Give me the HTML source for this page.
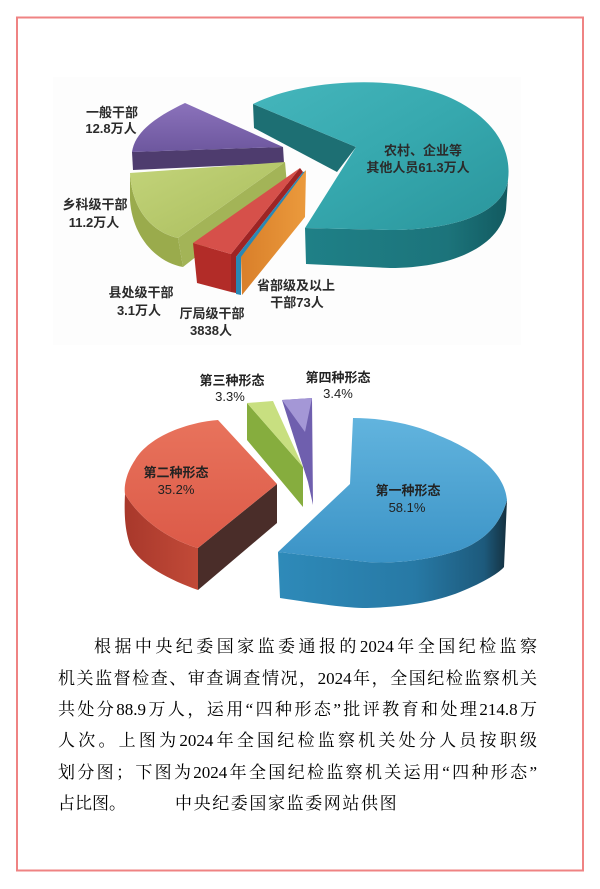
<!DOCTYPE html>
<html><head><meta charset="utf-8">
<style>
html,body{margin:0;padding:0;background:#fff;}
body{width:600px;height:889px;position:relative;overflow:hidden;}
svg{position:absolute;left:0;top:0;}
.p{position:absolute;left:58px;width:479px;font-family:"Liberation Serif","Noto Serif CJK SC",serif;font-size:17px;line-height:20px;color:#000;white-space:nowrap;}
.j{text-align:justify;text-align-last:justify;white-space:normal;}
</style></head><body>
<svg width="600" height="889" viewBox="0 0 600 889" xmlns="http://www.w3.org/2000/svg">
<defs>
<linearGradient id="tealTop" x1="0" y1="0" x2="1" y2="1">
<stop offset="0" stop-color="#45b6bc"/><stop offset="0.5" stop-color="#36a8ae"/><stop offset="1" stop-color="#2a959c"/>
</linearGradient>
<linearGradient id="tealSide" x1="0" y1="0" x2="1" y2="0">
<stop offset="0" stop-color="#1f8087"/><stop offset="0.7" stop-color="#1c747b"/><stop offset="1" stop-color="#125a60"/>
</linearGradient>
<linearGradient id="purTop" x1="0" y1="0" x2="0" y2="1">
<stop offset="0" stop-color="#8b72bb"/><stop offset="1" stop-color="#6d579e"/>
</linearGradient>
<linearGradient id="grnTop" x1="0" y1="0" x2="1" y2="1">
<stop offset="0" stop-color="#c3d47a"/><stop offset="1" stop-color="#a9bc5c"/>
</linearGradient>
<linearGradient id="orng" x1="0" y1="0" x2="1" y2="0">
<stop offset="0" stop-color="#d97f2a"/><stop offset="1" stop-color="#eb9a3c"/>
</linearGradient>
<linearGradient id="blueTop" x1="0" y1="0" x2="0" y2="1">
<stop offset="0" stop-color="#62b4de"/><stop offset="1" stop-color="#3b93c6"/>
</linearGradient>
<linearGradient id="blueSide" x1="0" y1="0" x2="1" y2="0">
<stop offset="0" stop-color="#2e8ab9"/><stop offset="0.6" stop-color="#2779a5"/><stop offset="0.9" stop-color="#1d5a7c"/><stop offset="1" stop-color="#14303f"/>
</linearGradient>
<linearGradient id="redTop" x1="0" y1="0" x2="0" y2="1">
<stop offset="0" stop-color="#e8735c"/><stop offset="1" stop-color="#dc5a48"/>
</linearGradient>
<linearGradient id="redSide" x1="0" y1="0" x2="1" y2="0">
<stop offset="0" stop-color="#a8382b"/><stop offset="1" stop-color="#c24a38"/>
</linearGradient>
</defs>

<rect x="53" y="77" width="468" height="268" fill="#fdfdfd"/>

<!-- TOP CHART -->
<path d="M253,104 L356,147 L337,172 L254,128 Z" fill="#1d6f73"/>
<path d="M508,180 C503,215 450,230 390,230 L305,228 L306,264 L390,268 C455,268 500,245 506,210 Z" fill="url(#tealSide)"/>
<path d="M356,147 L253,104 C300,80 400,72 455,100 C495,120 512,150 508,180 C503,215 450,230 390,230 L305,228 Z" fill="url(#tealTop)"/>
<path d="M132,152 L283,147 L284,163 L133,170 Z" fill="#4e3c6e"/>
<path d="M185,103 C160,115 135,130 132,152 L283,147 Z" fill="url(#purTop)"/>
<path d="M130,173 C132,210 152,232 178,238 L183,267 C155,262 132,235 130,200 Z" fill="#9aab4c"/>
<path d="M178,238 L285,162 L287,185 L183,267 Z" fill="#a3b457"/>
<path d="M130,173 L285,162 L178,238 C152,232 132,210 130,173 Z" fill="url(#grnTop)"/>
<path d="M193,243 L231,254 L231,292 L197,283 Z" fill="#b22c28"/>
<path d="M231,254 L300,168 L303,172 L236,257 L236,293 L231,292 Z" fill="#9e2424"/>
<path d="M193,243 L300,168 L231,254 Z" fill="#d6504a"/>
<path d="M236,257 L303,172 L306,171 L241,258 L241,295 L236,294 Z" fill="#2a88b5"/>
<path d="M241,257 L306,170 L305,217 L242,295 Z" fill="url(#orng)"/>

<g font-family="Liberation Sans, Noto Sans CJK SC, sans-serif" font-weight="bold" font-size="13" fill="#2b2b2b" text-anchor="middle">
<text x="112" y="117">一般干部</text>
<text x="111" y="133">12.8万人</text>
<text x="95" y="209">乡科级干部</text>
<text x="94" y="227">11.2万人</text>
<text x="141" y="297">县处级干部</text>
<text x="139" y="315">3.1万人</text>
<text x="212" y="318">厅局级干部</text>
<text x="211" y="335">3838人</text>
<text x="296" y="290">省部级及以上</text>
<text x="297" y="307">干部73人</text>
<text x="423" y="155">农村、企业等</text>
<text x="418" y="172">其他人员61.3万人</text>
</g>

<!-- BOTTOM CHART -->
<path d="M507,500 C500,525 485,540 460,550 C430,560 395,564 367,562 L278,552 L280,598 C320,604 345,608 367,608 C400,607 433,603 460,592 C485,582 500,572 504,567 Z" fill="url(#blueSide)"/>
<path d="M353,418 C385,418 417,425 440,436 C480,452 505,475 507,500 C500,525 485,540 460,550 C430,560 395,564 367,562 L278,552 L350,484 Z" fill="url(#blueTop)"/>
<path d="M198,548 L277,484 L277,523 L198,590 Z" fill="#4a2d29"/>
<path d="M125,494 C140,520 170,540 198,548 L198,590 C170,580 140,565 130,545 C125,530 124,515 125,494 Z" fill="url(#redSide)"/>
<path d="M218,420 C190,422 150,435 135,460 C125,475 124,488 125,494 C140,520 170,540 198,548 L277,484 Z" fill="url(#redTop)"/>
<path d="M247,403 L303,467 L303,507 L247,440 Z" fill="#86ad3e"/>
<path d="M247,403 L273,401 L303,467 Z" fill="#c8df80"/>
<path d="M282,400 L312,398 L313,505 L308,482 Z" fill="#6f5fae"/>
<path d="M282,400 L312,398 L305,432 Z" fill="#a497d6"/>

<g font-family="Liberation Sans, Noto Sans CJK SC, sans-serif" font-size="13" fill="#222" text-anchor="middle">
<text x="232" y="385" font-weight="bold">第三种形态</text>
<text x="230" y="401">3.3%</text>
<text x="338" y="382" font-weight="bold">第四种形态</text>
<text x="338" y="398">3.4%</text>
<text x="176" y="477" font-weight="bold">第二种形态</text>
<text x="176" y="494">35.2%</text>
<text x="408" y="495" font-weight="bold">第一种形态</text>
<text x="407" y="512">58.1%</text>
</g>

<rect x="17" y="17.5" width="566" height="853" fill="none" stroke="#ef8383" stroke-width="2"/>
</svg>

<div class="p j" style="top:637px;left:94px;width:443px;">根据中央纪委国家监委通报的2024年全国纪检监察</div>
<div class="p j" style="top:669px;">机关监督检查、审查调查情况，2024年，全国纪检监察机关</div>
<div class="p j" style="top:700px;">共处分88.9万人，运用“四种形态”批评教育和处理214.8万</div>
<div class="p j" style="top:731px;">人次。上图为2024年全国纪检监察机关处分人员按职级</div>
<div class="p j" style="top:763px;">划分图；下图为2024年全国纪检监察机关运用“四种形态”</div>
<div class="p" style="top:794px;">占比图。<span style="position:absolute;left:117px;letter-spacing:1.6px;">中央纪委国家监委网站供图</span></div>
</body></html>
